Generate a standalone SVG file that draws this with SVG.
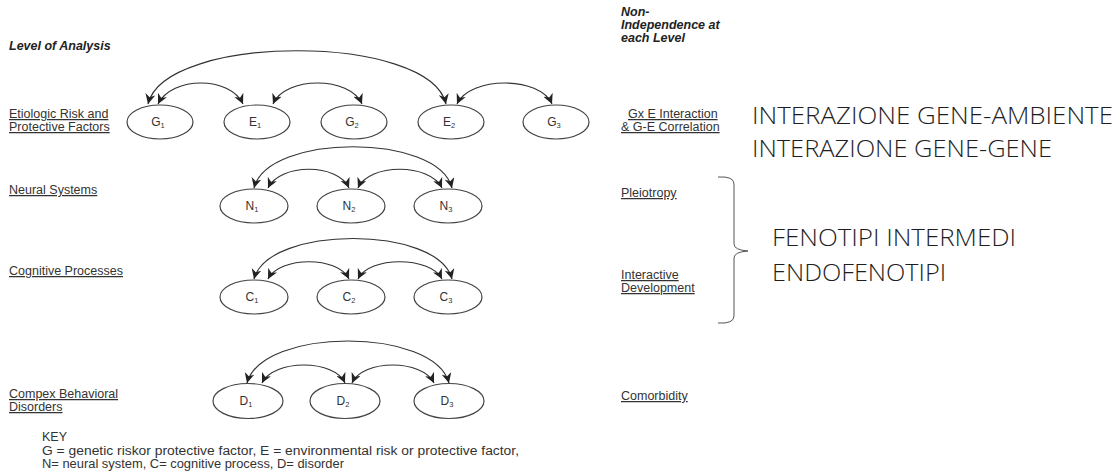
<svg xmlns="http://www.w3.org/2000/svg" width="1119" height="475" viewBox="0 0 1119 475">
<style>
.bg{fill:#fff}
.lbl{font-family:"Liberation Sans",Arial,sans-serif;font-size:12.5px;fill:#333;text-decoration:underline}
.hdr{font-family:"Liberation Sans",Arial,sans-serif;font-size:12.5px;fill:#222;font-weight:bold;font-style:italic}
.key{font-family:"Liberation Sans",Arial,sans-serif;font-size:12.5px;fill:#333}
.node ellipse{fill:#fff;stroke:#444;stroke-width:1.2}
.node text{font-family:"Liberation Sans",Arial,sans-serif;font-size:12px;fill:#333;text-anchor:middle}
.sub{font-size:7.5px}
.arc{fill:none;stroke:#333;stroke-width:1.2;marker-start:url(#ah);marker-end:url(#ah)}
.big{font-family:"Open Sans","Liberation Sans",sans-serif;font-size:24px;font-weight:300;fill:#1e1e1e}
</style>
<defs>
<marker id="ah" viewBox="0 0 10 10" refX="10" refY="5" markerWidth="10" markerHeight="10" markerUnits="userSpaceOnUse" orient="auto-start-reverse">
<path d="M0,0 L10,5 L0,10 L3,5 z" fill="#222"/>
</marker>
</defs>
<rect class="bg" x="0" y="0" width="1119" height="475"/>

<g id="left-labels">
<text class="hdr" x="9" y="50">Level of Analysis</text>
<text class="lbl" x="9" y="118">Etiologic Risk and</text>
<text class="lbl" x="9" y="131">Protective Factors</text>
<text class="lbl" x="9" y="194">Neural Systems</text>
<text class="lbl" x="9" y="275">Cognitive Processes</text>
<text class="lbl" x="9" y="398">Compex Behavioral</text>
<text class="lbl" x="9" y="411">Disorders</text>
</g>

<g id="connectors">
<path class="arc" d="M148,104 C165,33 430,33 446,104"/>
<path class="arc" d="M158,104 C172,76 230,76 243,104"/>
<path class="arc" d="M273,104 C285,76 350,76 362,104"/>
<path class="arc" d="M457,104 C470,76 540,76 552,104"/>

<path class="arc" d="M254,188 C268,133 438,133 452,188"/>
<path class="arc" d="M268,188 C280,163 338,163 349,188"/>
<path class="arc" d="M358,188 C369,163 430,163 442,188"/>

<path class="arc" d="M254,279 C268,225 438,225 452,279"/>
<path class="arc" d="M268,279 C280,256 338,256 349,279"/>
<path class="arc" d="M358,279 C369,256 430,256 442,279"/>

<path class="arc" d="M247,383 C262,327 434,327 449,383"/>
<path class="arc" d="M262,383 C274,359 334,359 345,383"/>
<path class="arc" d="M352,383 C363,359 422,359 434,383"/>
</g>

<g id="node-G1" class="node"><ellipse cx="160" cy="122" rx="33" ry="17"/><text x="158" y="126">G<tspan class="sub" dy="2">1</tspan></text></g>
<g id="node-E1" class="node"><ellipse cx="257" cy="122" rx="33" ry="17"/><text x="255" y="126">E<tspan class="sub" dy="2">1</tspan></text></g>
<g id="node-G2" class="node"><ellipse cx="354" cy="122" rx="33" ry="17"/><text x="352" y="126">G<tspan class="sub" dy="2">2</tspan></text></g>
<g id="node-E2" class="node"><ellipse cx="451" cy="122" rx="33" ry="17"/><text x="449" y="126">E<tspan class="sub" dy="2">2</tspan></text></g>
<g id="node-G3" class="node"><ellipse cx="556" cy="122" rx="33" ry="17"/><text x="554" y="126">G<tspan class="sub" dy="2">3</tspan></text></g>

<g id="node-N1" class="node"><ellipse cx="254" cy="206" rx="34" ry="17"/><text x="252" y="210">N<tspan class="sub" dy="2">1</tspan></text></g>
<g id="node-N2" class="node"><ellipse cx="351" cy="206" rx="34" ry="17"/><text x="349" y="210">N<tspan class="sub" dy="2">2</tspan></text></g>
<g id="node-N3" class="node"><ellipse cx="448" cy="206" rx="34" ry="17"/><text x="446" y="210">N<tspan class="sub" dy="2">3</tspan></text></g>

<g id="node-C1" class="node"><ellipse cx="254" cy="297" rx="34" ry="17"/><text x="252" y="301">C<tspan class="sub" dy="2">1</tspan></text></g>
<g id="node-C2" class="node"><ellipse cx="351" cy="297" rx="34" ry="17"/><text x="349" y="301">C<tspan class="sub" dy="2">2</tspan></text></g>
<g id="node-C3" class="node"><ellipse cx="448" cy="297" rx="34" ry="17"/><text x="446" y="301">C<tspan class="sub" dy="2">3</tspan></text></g>

<g id="node-D1" class="node"><ellipse cx="248" cy="401" rx="35" ry="17.5"/><text x="246" y="405">D<tspan class="sub" dy="2">1</tspan></text></g>
<g id="node-D2" class="node"><ellipse cx="345" cy="401" rx="35" ry="17.5"/><text x="343" y="405">D<tspan class="sub" dy="2">2</tspan></text></g>
<g id="node-D3" class="node"><ellipse cx="449" cy="401" rx="35" ry="17.5"/><text x="447" y="405">D<tspan class="sub" dy="2">3</tspan></text></g>

<g id="key">
<text class="key" x="42" y="441">KEY</text>
<text class="key" x="42" y="455" textLength="477" lengthAdjust="spacingAndGlyphs">G = genetic riskor protective factor, E = environmental risk or protective factor,</text>
<text class="key" x="42" y="468" textLength="302" lengthAdjust="spacingAndGlyphs">N= neural system, C= cognitive process, D= disorder</text>
</g>

<g id="right-labels">
<text class="hdr" x="621" y="16">Non-</text>
<text class="hdr" x="621" y="29">Independence at</text>
<text class="hdr" x="621" y="42">each Level</text>
<text class="lbl" x="628" y="118">Gx E Interaction</text>
<text class="lbl" x="621" y="131">&amp; G-E  Correlation</text>
<text class="lbl" x="621" y="197">Pleiotropy</text>
<text class="lbl" x="621" y="279">Interactive</text>
<text class="lbl" x="621" y="292">Development</text>
<text class="lbl" x="621" y="400">Comorbidity</text>
</g>

<g id="annotations">
<text class="big" x="752" y="124" textLength="361" lengthAdjust="spacingAndGlyphs">INTERAZIONE GENE-AMBIENTE</text>
<text class="big" x="752" y="157" textLength="300" lengthAdjust="spacingAndGlyphs">INTERAZIONE GENE-GENE</text>
<path d="M718,177 Q734,176 734,184 L734,244 Q734,250 748,251 Q734,252 734,258 L734,316 Q734,324 718,323" fill="none" stroke="#555" stroke-width="1"/>
<text class="big" x="772" y="246" textLength="244" lengthAdjust="spacingAndGlyphs">FENOTIPI INTERMEDI</text>
<text class="big" x="772" y="281" textLength="174" lengthAdjust="spacingAndGlyphs">ENDOFENOTIPI</text>
</g>
</svg>
